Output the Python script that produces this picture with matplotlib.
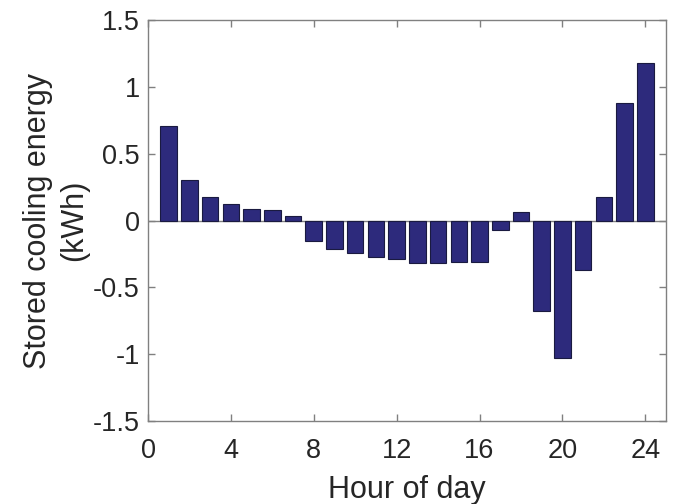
import matplotlib.pyplot as plt
import numpy as np

plt.rcParams["font.family"] = ["Liberation Sans", "DejaVu Sans"]

hours = np.arange(1, 25)
stored_kwh = [
    0.71, 0.30, 0.175, 0.125, 0.088, 0.08, 0.032, -0.15,
    -0.21, -0.245, -0.275, -0.29, -0.317, -0.317, -0.307, -0.307,
    -0.07, 0.065, -0.68, -1.025, -0.37, 0.175, 0.88, 1.18,
]
x_ticks = [0, 4, 8, 12, 16, 20, 24]
y_ticks = [-1.5, -1, -0.5, 0, 0.5, 1, 1.5]
y_ticklabels = ["-1.5", "-1", "-0.5", "0", "0.5", "1", "1.5"]

text_color = "#262626"
spine_color = "#808080"

fig = plt.figure(figsize=(6.78, 5.04), dpi=100)
ax = fig.add_axes([148 / 678, 1 - 421 / 504, 518 / 678, 401 / 504])

ax.bar(hours, stored_kwh, width=0.8, color="#2d2a7c", edgecolor="#1a1a40",
       linewidth=0.8, zorder=2)
ax.axhline(0, color="#808080", linewidth=1.0, zorder=1)

ax.set_xlim(0, 25)
ax.set_ylim(-1.5, 1.5)
ax.set_xticks(x_ticks)
ax.set_yticks(y_ticks)
ax.set_yticklabels(y_ticklabels)

for side in ax.spines.values():
    side.set_color(spine_color)
    side.set_linewidth(1.0)
ax.tick_params(direction="in", length=5, width=1, color=spine_color,
               labelsize=19.5, labelcolor=text_color, top=True, right=True)
ax.tick_params(axis="x", pad=12)
ax.tick_params(axis="y", pad=6)

ax.set_xlabel("Hour of day", fontsize=22, color=text_color)
ax.set_ylabel("Stored cooling energy\n(kWh)", fontsize=22, color=text_color,
              linespacing=1.25)
ax.xaxis.set_label_coords(0.5, -0.135)
ax.yaxis.set_label_coords(-0.114, 0.5)

fig.savefig("out.png", dpi=100)
